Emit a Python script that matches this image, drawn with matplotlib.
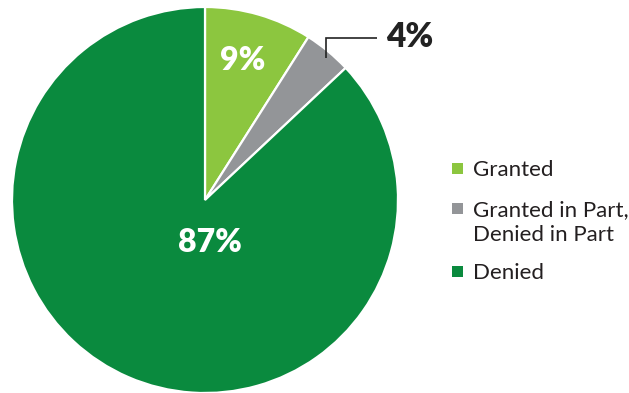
import matplotlib
matplotlib.use("Agg")
import matplotlib.pyplot as plt
from matplotlib.patches import Rectangle

categories = ["Granted", "Granted in Part,\nDenied in Part", "Denied"]
shares = [9, 4, 87]
colors = ["#8CC63F", "#939598", "#0A8A3E"]

W, H = 629, 393
fig = plt.figure(figsize=(W / 100, H / 100), dpi=100)
ax = fig.add_axes([0, 0, 1, 1])

def Y(y):
    return H - y

cx, cy, r = 205, Y(200), 193
wedges, _ = ax.pie(shares, colors=colors, startangle=90, counterclock=False,
                   center=(cx, cy), radius=r, frame=True,
                   wedgeprops=dict(edgecolor="white", linewidth=1.6))
ax.set_xlim(0, W)
ax.set_ylim(0, H)
ax.set_aspect("equal")
ax.axis("off")

font = "Lato"
lab = [f"{v}%" for v in shares]

# value labels
ax.text(243, Y(60), lab[0], color="white", fontsize=23, fontweight="heavy",
        family=font, ha="center", va="center")
ax.text(210, Y(243), lab[2], color="white", fontsize=23, fontweight="heavy",
        family=font, ha="center", va="center")
ax.text(386, Y(37), lab[1], color="#222222", fontsize=24, fontweight="heavy",
        family=font, ha="left", va="center")
# leader line for the small slice
ax.plot([326, 326, 377], [Y(58), Y(38), Y(38)], color="#222222", lw=1.2,
        solid_capstyle="butt", solid_joinstyle="miter")

# legend
legend_rows = [168, 208, 271]
for (name, c, yy) in zip(categories, colors, legend_rows):
    ax.add_patch(Rectangle((452, Y(yy) - 5.5), 11, 11, facecolor=c, edgecolor="none"))
    first, *rest = name.split("\n")
    ax.text(473, Y(yy + 8), first, fontsize=16, family=font, color="#231F20",
            va="baseline", ha="left")
    for k, line in enumerate(rest, 1):
        ax.text(473, Y(yy + 8 + 25 * k), line, fontsize=16, family=font,
                color="#231F20", va="baseline", ha="left")

fig.savefig("out.png", dpi=100)
